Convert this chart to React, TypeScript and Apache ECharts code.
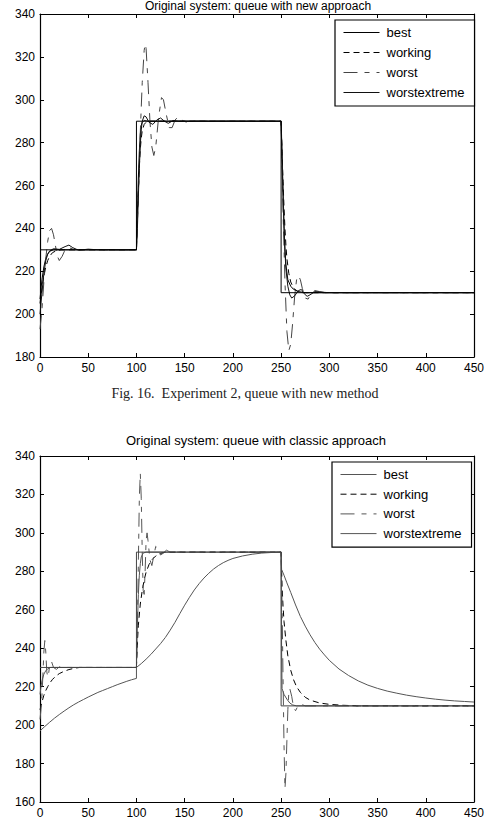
import React, { useEffect, useRef } from "react";
import * as echarts from "echarts";

// ---------- Top chart (new approach) ----------
const topTitle = "Original system: queue with new approach";
const caption = "Fig. 16.  Experiment 2, queue with new method";
const legendNames = ["best", "working", "worst", "worstextreme"];

const topBestT = [0, 2, 4, 6, 8, 10, 14, 20, 100, 101, 102, 103, 104, 105, 106, 108, 112, 250, 251, 252, 253, 254, 255, 257, 260, 263, 268, 275, 450];
const topBestV = [207, 216, 222, 226, 228, 229.3, 230, 230, 230, 248, 264, 276, 284, 288, 289.5, 290.3, 290, 290, 275, 258, 242, 230, 223, 216, 213, 211.5, 210.5, 210, 210];

const topWorkingT = [0, 2, 4, 6, 8, 10, 13, 17, 22, 100, 101, 102, 103, 104, 105, 106, 108, 111, 250, 251, 252, 253, 254, 255, 256, 258, 260, 263, 267, 272, 450];
const topWorkingV = [205, 212, 218, 222, 225, 227, 228.7, 229.6, 230, 230, 245, 258, 269, 277, 282, 285.5, 288.5, 290, 290, 276, 262, 250, 240, 232, 226, 219, 215, 212, 210.7, 210, 210];

const topWorstT = [0, 2, 4, 6, 8, 10, 12, 14, 16, 18, 20, 23, 26, 30, 35, 45, 100, 102, 104, 106, 108, 109, 110, 112, 114, 116, 118, 120, 123, 126, 128, 131, 134, 137, 140, 143, 147, 152, 158, 250, 251, 252, 254, 256, 258, 260, 262, 264, 266, 268, 270, 272, 275, 278, 281, 285, 290, 296, 450];
const topWorstV = [193, 202, 215, 226, 234, 239, 240, 237, 232, 227, 225, 227, 230, 231, 230.2, 230, 230, 255, 285, 308, 323, 326, 324, 308, 290, 278, 274, 278, 292, 301, 300, 293, 287, 287, 290.5, 292, 290.5, 289.5, 290, 290, 270, 248, 215, 192, 183, 186, 196, 208, 216, 218, 216, 212, 207.5, 207, 209.5, 211, 210.5, 210, 210];

const topExtremeT = [0, 2, 4, 6, 8, 10, 14, 20, 26, 30, 34, 40, 50, 60, 100, 101, 102, 103, 104, 105, 106, 108, 110, 113, 117, 121, 125, 129, 133, 138, 145, 250, 251, 252, 253, 254, 255, 257, 259, 261, 264, 268, 271, 274, 277, 280, 285, 290, 300, 450];
const topExtremeV = [200, 210, 219, 225, 228, 229.5, 230.5, 230.2, 231.5, 232.2, 231, 229.8, 230.3, 230, 230, 240, 255, 268, 279, 286, 290, 292.5, 292, 289.5, 288.5, 290.5, 291.5, 290, 289, 290.3, 290, 290, 272, 255, 240, 229, 221, 213, 209, 207.5, 208.5, 211, 211.5, 209.5, 208.3, 209, 210.5, 210.3, 210, 210];

const topRefT = [0, 100, 100, 250, 250, 450];
const topRefV = [230, 230, 290, 290, 210, 210];

// ---------- Bottom chart (classic approach) ----------
const botTitle = "Original system: queue with classic approach";

const botBestT = [0, 1, 2, 4, 6, 8, 11, 100, 101, 102, 103, 104, 105, 107, 110, 250, 250.5, 251, 253, 256, 259, 262, 266, 450];
const botBestV = [216, 220, 223, 226.5, 228.3, 229.3, 230, 230, 252, 268, 278, 284, 287.5, 289.5, 290, 290, 240, 219, 216, 213.5, 211.5, 210.5, 210, 210];

const botWorkingT = [0, 2, 4, 6, 8, 10, 13, 16, 20, 25, 30, 35, 41, 100, 101, 102, 104, 106, 108, 110, 113, 116, 120, 125, 130, 250, 251, 252, 253, 255, 257, 260, 263, 266, 270, 275, 280, 290, 300, 315, 330, 450];
const botWorkingV = [208, 212, 215.5, 218, 220, 221.8, 223.8, 225.3, 226.8, 228, 228.9, 229.5, 230, 230, 243, 252, 263, 270, 275.5, 279.5, 283.5, 286, 288, 289.3, 290, 290, 272, 262, 254, 244, 236, 228.5, 223.5, 220, 217, 214.5, 213, 211.5, 210.8, 210.3, 210, 210];

const botWorstT = [0, 1, 2, 3, 4, 5, 6, 7, 8, 9, 10, 12, 14, 17, 20, 25, 100, 101, 102, 103, 104, 105, 106, 107, 108, 109, 110, 111, 112, 114, 116, 118, 120, 122, 125, 128, 131, 135, 250, 251, 252, 253, 254, 255, 256, 257, 258, 259, 261, 263, 265, 267, 270, 275, 450];
const botWorstV = [203, 208, 215, 226, 238, 244, 238, 228, 225, 227, 231, 233, 230, 229, 230.3, 230, 230, 250, 285, 318, 331, 318, 290, 270, 268, 280, 296, 300, 296, 286, 283, 288, 293, 292, 288.5, 289.5, 291, 290, 290, 262, 225, 190, 167, 175, 192, 208, 217, 219, 215, 209, 207.5, 209.5, 211, 210, 210];

const botExtremeT = [
  0, 5, 10, 15, 20, 25, 30, 35, 40, 45, 50, 55, 60, 65, 70, 75, 80, 85, 90, 95, 100,
  100, 105, 110, 115, 120, 125, 130, 135, 140, 145, 150, 155, 160, 165, 170, 175, 180, 185, 190, 195, 200, 210, 220, 230, 240, 250,
  250.5, 253, 256, 260, 265, 270, 275, 280, 285, 290, 295, 300, 310, 320, 330, 340, 350, 360, 370, 380, 390, 400, 410, 420, 430, 440, 450,
];
const botExtremeV = [
  197, 199.3, 201.5, 203.6, 205.5, 207.3, 209, 210.6, 212, 213.3, 214.6, 215.8, 217, 218, 219, 220, 221, 221.9, 222.8, 223.6, 224.3,
  230, 232, 234.3, 236.8, 239.6, 242.4, 245.6, 249.4, 253.5, 258, 262.4, 266.5, 270.3, 273.6, 276.5, 279, 281.2, 283, 284.5, 285.7, 286.7, 288, 288.9, 289.5, 289.8, 290,
  281, 278, 274, 269, 262.5, 256.5, 251.5, 247, 243, 239.5, 236.5, 233.7, 229.2, 225.8, 223, 220.8, 219.1, 217.7, 216.6, 215.6, 214.8, 214.1, 213.5, 213, 212.6, 212.3, 212,
];

const botRefT = [0, 100, 100, 250, 250, 450];
const botRefV = [230, 230, 290, 290, 210, 210];

const FONT = "'Liberation Sans', Arial, sans-serif";
const SERIF = "'Liberation Serif', 'Times New Roman', serif";

const zip = (t: number[], v: number[]) => t.map((x, i) => [x, v[i]]);

function axes(yMin: number, yMax: number) {
  const common = {
    type: "value" as const,
    axisLine: { show: true, onZero: false, lineStyle: { color: "#000", width: 1.2 } },
    axisTick: { show: true, inside: true, length: 4, lineStyle: { color: "#000" } },
    splitLine: { show: false },
  };
  const label = { color: "#000", fontSize: 12, fontFamily: FONT, margin: 5 };
  return {
    xAxis: [
      { ...common, min: 0, max: 450, interval: 50, position: "bottom", axisLabel: { ...label, showMaxLabel: true } },
      { ...common, min: 0, max: 450, interval: 50, position: "top", axisLabel: { show: false } },
    ],
    yAxis: [
      { ...common, min: yMin, max: yMax, interval: 20, position: "left", axisLabel: { ...label } },
      { ...common, min: yMin, max: yMax, interval: 20, position: "right", axisLabel: { show: false } },
    ],
  };
}

function line(name: string, data: number[][], color: string, type: any, width = 1) {
  return {
    name,
    type: "line",
    data,
    xAxisIndex: 0,
    yAxisIndex: 0,
    symbol: "none",
    showSymbol: false,
    lineStyle: { color, width, type },
    itemStyle: { color },
    z: 3,
  };
}

function legend(left: number, top: number, gap: number) {
  return {
    data: legendNames,
    orient: "vertical",
    left,
    top,
    itemWidth: 36,
    itemHeight: 12,
    itemGap: gap,
    padding: [6, 10, 7, 8],
    borderColor: "#000",
    borderWidth: 1.2,
    backgroundColor: "#fff",
    itemStyle: { opacity: 0 },
    lineStyle: { width: 1 },
    textStyle: { fontSize: 13, fontFamily: FONT, color: "#000", padding: [0, 0, 0, 2] },
    selectedMode: false,
  };
}

const topOption = {
  animation: false,
  backgroundColor: "#fff",
  grid: { left: 40, top: 14, width: 439, height: 343, containLabel: false },
  ...axes(180, 340),
  legend: legend(335, 20, 7),
  graphic: [
    { type: "text", x: 258, y: 6, style: { text: topTitle, fontSize: 12, fontFamily: FONT, fill: "#000", align: "center", verticalAlign: "middle" } },
    { type: "text", x: 245, y: 393, style: { text: caption, fontSize: 14, fontFamily: SERIF, fill: "#222", align: "center", verticalAlign: "middle" } },
  ],
  series: [
    line("best", zip(topBestT, topBestV), "#000", "solid"),
    line("working", zip(topWorkingT, topWorkingV), "#000", [6, 4]),
    line("worst", zip(topWorstT, topWorstV), "#444", [14, 7, 5, 7]),
    line("worstextreme", zip(topExtremeT, topExtremeV), "#111", "solid"),
    line("reference", zip(topRefT, topRefV), "#000", "solid"),
  ],
};

const botOption = {
  animation: false,
  backgroundColor: "#fff",
  grid: { left: 40, top: 46, width: 434, height: 346, containLabel: false },
  ...axes(160, 340),
  legend: legend(332, 52, 6.7),
  graphic: [
    { type: "text", x: 256, y: 30, style: { text: botTitle, fontSize: 13, fontFamily: FONT, fill: "#000", align: "center", verticalAlign: "middle" } },
  ],
  series: [
    line("best", zip(botBestT, botBestV), "#555", "solid"),
    line("working", zip(botWorkingT, botWorkingV), "#000", [6, 4]),
    line("worst", zip(botWorstT, botWorstV), "#555", [14, 7, 5, 7]),
    line("worstextreme", zip(botExtremeT, botExtremeV), "#555", "solid"),
    line("reference", zip(botRefT, botRefV), "#444", "solid"),
  ],
};

export default function App() {
  const r1 = useRef<HTMLDivElement>(null);
  const r2 = useRef<HTMLDivElement>(null);
  useEffect(() => {
    const c1 = echarts.init(r1.current as HTMLDivElement, null, { renderer: "svg" });
    const c2 = echarts.init(r2.current as HTMLDivElement, null, { renderer: "svg" });
    c1.setOption(topOption as any);
    c2.setOption(botOption as any);
    return () => {
      c1.dispose();
      c2.dispose();
    };
  }, []);
  return (
    <div style={{ position: "absolute", left: 0, top: 0, width: 487, height: 823, background: "#fff" }}>
      <div ref={r1} style={{ position: "absolute", left: 0, top: 0, width: 487, height: 410 }} />
      <div ref={r2} style={{ position: "absolute", left: 0, top: 410, width: 487, height: 413 }} />
    </div>
  );
}
